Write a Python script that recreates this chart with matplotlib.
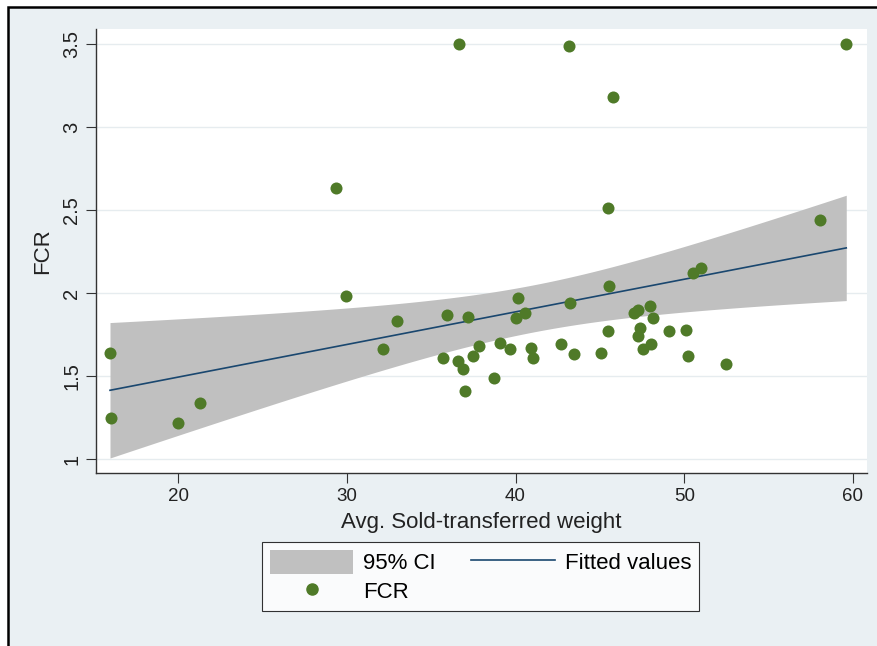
import matplotlib.pyplot as plt
import numpy as np
from matplotlib.patches import Rectangle, Patch
from matplotlib.lines import Line2D

# Data
weight = np.array([15.97, 16.03, 20.0, 21.3, 29.36, 29.96, 32.15, 33.0, 35.72, 35.92,
                   36.57, 36.65, 36.87, 37.0, 37.17, 37.46, 37.86, 38.75, 39.1, 39.66,
                   40.03, 40.15, 40.54, 40.94, 41.02, 42.70, 43.17, 43.23, 43.48, 45.05,
                   45.46, 45.5, 45.54, 45.8, 47.04, 47.24, 47.27, 47.36, 47.54, 47.97,
                   48.05, 48.15, 49.12, 50.08, 50.24, 50.5, 51.0, 52.47, 58.05, 59.6])
fcr = np.array([1.64, 1.25, 1.22, 1.34, 2.63, 1.98, 1.66, 1.83, 1.61, 1.867,
                1.59, 3.5, 1.542, 1.41, 1.857, 1.62, 1.68, 1.49, 1.70, 1.66,
                1.847, 1.968, 1.878, 1.67, 1.61, 1.69, 3.49, 1.94, 1.63, 1.64,
                1.77, 2.51, 2.04, 3.18, 1.88, 1.74, 1.90, 1.79, 1.66, 1.92,
                1.69, 1.85, 1.77, 1.78, 1.62, 2.12, 2.15, 1.57, 2.44, 3.5])
xticks = [20, 30, 40, 50, 60]
yticks = [1, 1.5, 2, 2.5, 3, 3.5]
yticklabels = ['1', '1.5', '2', '2.5', '3', '3.5']

# Linear fit with 95% CI of the mean
n = len(weight)
b, a = np.polyfit(weight, fcr, 1)
resid = fcr - (a + b * weight)
s = np.sqrt(np.sum(resid ** 2) / (n - 2))
sxx = np.sum((weight - weight.mean()) ** 2)
t_crit = 2.0106  # t(0.975, 48)
xs = np.linspace(weight.min(), weight.max(), 200)
fit = a + b * xs
se = s * np.sqrt(1 / n + (xs - weight.mean()) ** 2 / sxx)

plt.rcParams['font.family'] = ['Liberation Sans', 'DejaVu Sans']
bg = '#eaf0f3'
green = '#4f7a28'
navy = '#1a476f'
ci_col = '#c0c0c0'
txt = '#222222'

fig = plt.figure(figsize=(8.77, 6.46), dpi=100)
fig.patch.set_facecolor('white')
fig.patches.append(Rectangle((8 / 877, -0.1), 1.1, 1.1 - 7 / 646, transform=fig.transFigure,
                             facecolor=bg, edgecolor='black', lw=1.8, zorder=-10))

ax = fig.add_axes([96 / 877, 1 - 473 / 646, (867 - 96) / 877, (473 - 29) / 646])
ax.set_facecolor('white')
ax.fill_between(xs, fit - t_crit * se, fit + t_crit * se, color=ci_col, lw=0, zorder=1)
ax.plot(xs, fit, color=navy, lw=1.2, zorder=2)
ax.scatter(weight, fcr, s=75, color=green, lw=0, zorder=3)

ax.set_xlim(15.14, 60.83)
ax.set_ylim(0.916, 3.59)
ax.set_xticks(xticks)
ax.set_yticks(yticks)
ax.set_yticklabels(yticklabels, rotation=90, va='center')
ax.tick_params(axis='x', labelsize=13.5)
ax.tick_params(axis='y', labelsize=14.5)
ax.tick_params(length=7, width=0.8, color='#333333', labelcolor=txt)
ax.grid(axis='y', color='#e6ecef', lw=1)
ax.set_axisbelow(True)
for side in ['top', 'right']:
    ax.spines[side].set_visible(False)
for side in ['left', 'bottom']:
    ax.spines[side].set_color('#333333')
    ax.spines[side].set_linewidth(1.0)

ax.set_xlabel('Avg. Sold-transferred weight', fontsize=16, color=txt, labelpad=5)
ax.set_ylabel('FCR', fontsize=16, color=txt, labelpad=7)

handles = [Patch(facecolor=ci_col, edgecolor='none'),
           Line2D([], [], marker='o', ls='none', color=green, markersize=8),
           Line2D([], [], color=navy, lw=1.2)]
labels = ['95% CI', 'FCR', 'Fitted values']
leg = fig.legend(handles, labels, ncol=2, loc='center',
                 bbox_to_anchor=(0.548, 1 - 576.5 / 646), fontsize=16,
                 frameon=True, fancybox=False, edgecolor='black', handlelength=3.75,
                 handleheight=1.3, handletextpad=0.45, columnspacing=1.6,
                 borderpad=0.35, labelspacing=0.2, borderaxespad=0)
leg.get_frame().set_linewidth(0.8)

fig.savefig('out.png', dpi=100, facecolor=fig.get_facecolor())
